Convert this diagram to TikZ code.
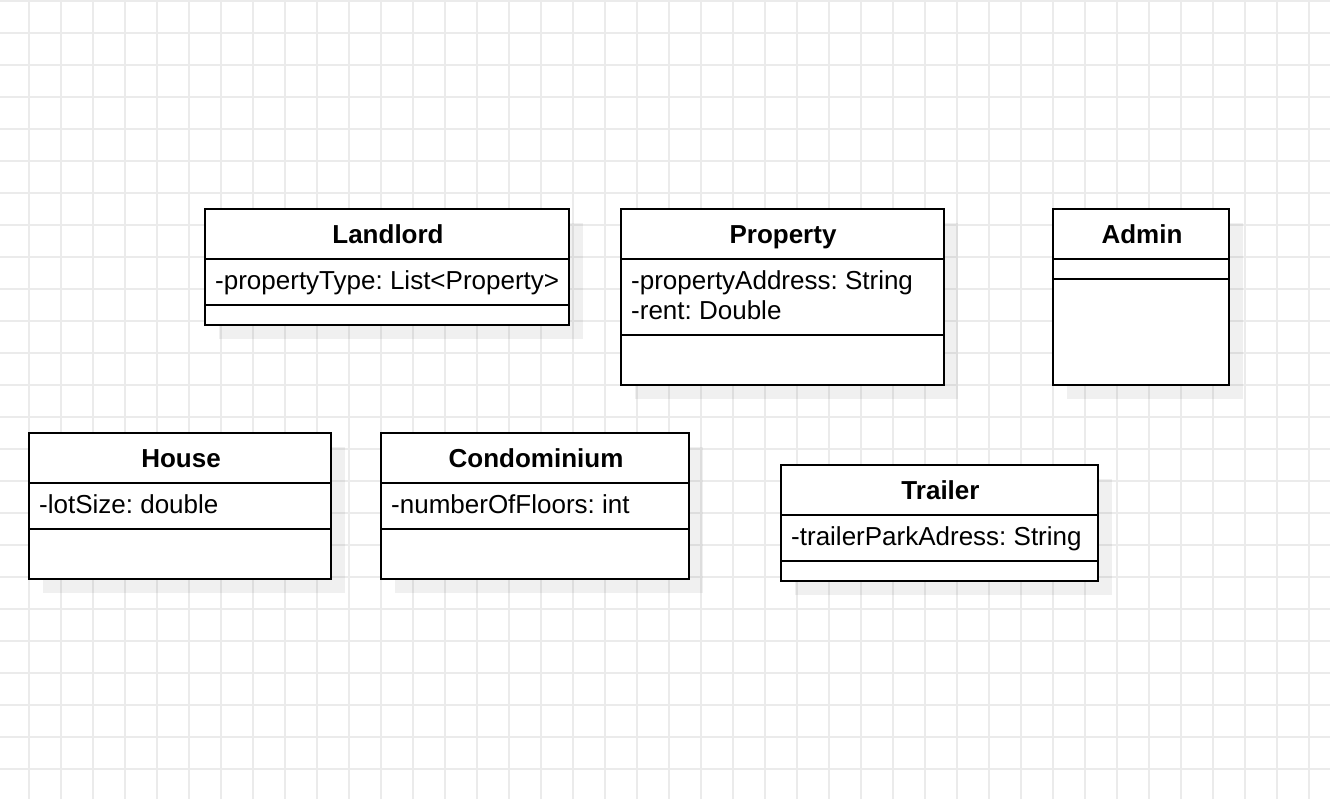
\documentclass[tikz,border=0pt]{standalone}
\usepackage{fontspec}
\setmainfont{Liberation Sans}
\usetikzlibrary{shadows}
\frenchspacing
\tikzset{
  gridline/.style={draw=black!8, line width=1.5pt},
  classbox/.style={draw=black, line width=2pt, fill=white, inner sep=0pt, outer sep=0pt, anchor=north west,
    general shadow={fill=black, fill opacity=0.06, shadow xshift=14pt, shadow yshift=-14pt}},
  sepline/.style={draw=black, line width=2pt},
  title/.style={font=\fontsize{26}{31}\selectfont\bfseries, anchor=base, inner sep=0pt},
  attr/.style={font=\fontsize{26}{31}\selectfont\frenchspacing, anchor=base west, inner sep=0pt}
}
\begin{document}
\begin{tikzpicture}[x=1pt,y=-1pt]
\useasboundingbox (0,0) rectangle (1330,799);
\fill[white] (0,0) rectangle (1330,799);
% grid
\foreach \gx in {29,61,...,1309} \draw[gridline] (\gx,0) -- (\gx,799);
\foreach \gy in {1,33,...,769} \draw[gridline] (0,\gy) -- (1330,\gy);

% Landlord
\node[classbox, minimum width=364pt, minimum height=116pt] (landlord) at (205,209) {};
\draw[sepline] ([yshift=-50pt]landlord.north west) -- ([yshift=-50pt]landlord.north east);
\draw[sepline] ([yshift=-96pt]landlord.north west) -- ([yshift=-96pt]landlord.north east);
\node[title] (landlordT) at (388,243.5) {Landlord};
\node[attr] (landlordA) at (215,290) {-propertyType: List<Property>};

% Property
\node[classbox, minimum width=323pt, minimum height=176pt] (property) at (621,209) {};
\draw[sepline] ([yshift=-50pt]property.north west) -- ([yshift=-50pt]property.north east);
\draw[sepline] ([yshift=-126pt]property.north west) -- ([yshift=-126pt]property.north east);
\node[title] (propertyT) at (783,243.5) {Property};
\node[attr] (propertyA1) at (631,290) {-propertyAddress: String};
\node[attr] (propertyA2) at (631,320) {-rent: Double};

% Admin
\node[classbox, minimum width=176pt, minimum height=176pt] (admin) at (1053,209) {};
\draw[sepline] ([yshift=-50pt]admin.north west) -- ([yshift=-50pt]admin.north east);
\draw[sepline] ([yshift=-70pt]admin.north west) -- ([yshift=-70pt]admin.north east);
\node[title] (adminT) at (1142,243.5) {Admin};

% House
\node[classbox, minimum width=302pt, minimum height=146pt] (house) at (29,433) {};
\draw[sepline] ([yshift=-50pt]house.north west) -- ([yshift=-50pt]house.north east);
\draw[sepline] ([yshift=-96pt]house.north west) -- ([yshift=-96pt]house.north east);
\node[title] (houseT) at (181,467.5) {House};
\node[attr] (houseA) at (39,513) {-lotSize: double};

% Condominium
\node[classbox, minimum width=308pt, minimum height=146pt] (condo) at (381,433) {};
\draw[sepline] ([yshift=-50pt]condo.north west) -- ([yshift=-50pt]condo.north east);
\draw[sepline] ([yshift=-96pt]condo.north west) -- ([yshift=-96pt]condo.north east);
\node[title] (condoT) at (536,467.5) {Condominium};
\node[attr] (condoA) at (391,513) {-numberOfFloors: int};

% Trailer
\node[classbox, minimum width=317pt, minimum height=116pt] (trailer) at (781,465) {};
\draw[sepline] ([yshift=-50pt]trailer.north west) -- ([yshift=-50pt]trailer.north east);
\draw[sepline] ([yshift=-96pt]trailer.north west) -- ([yshift=-96pt]trailer.north east);
\node[title] (trailerT) at (940.5,499.5) {Trailer};
\node[attr] (trailerA) at (791,545) {-trailerParkAdress: String};
\end{tikzpicture}
\end{document}
